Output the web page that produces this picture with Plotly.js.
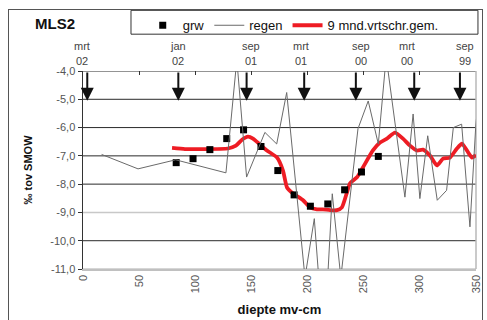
<!DOCTYPE html>
<html><head><meta charset="utf-8">
<script src="https://cdn.plot.ly/plotly-3.0.1.min.js"></script>
<style>
html,body{margin:0;padding:0;background:#fff;}
#wrap{position:relative;width:487px;height:320px;}
#chart{position:absolute;left:0;top:0;width:487px;height:320px;}
#frame{position:absolute;left:8px;top:9px;width:473px;height:320px;border:1px solid #555;pointer-events:none;}
</style></head>
<body><div id="wrap"><div id="chart"></div><div id="frame"></div></div>
<script>
// grondwater samples
const grwX = [83, 98, 113, 128, 143, 158.5, 173.5, 188, 202.5, 218, 233, 248, 263];
const grwY = [-7.24, -7.10, -6.78, -6.39, -6.08, -6.67, -7.52, -8.38, -8.78, -8.70, -8.20, -7.57, -7.02];
// regen (precipitation)
const regenX = [16.6, 49, 82.5, 127.3, 137, 145.7, 162, 172.5, 181.4, 197.7, 206, 210.5, 217.5, 222, 229.6, 244.9, 254, 263, 270, 286.7, 294, 300, 307, 315.5, 323.8, 329.8, 337.2, 344.6, 349.7, 352];
const regenY = [-6.95, -7.46, -7.14, -7.6, -3.6, -7.75, -6.17, -6.58, -4.76, -11.3, -9.22, -11.6, -11.6, -8.34, -11.3, -6.04, -5.06, -6.58, -3.5, -8.46, -5.52, -8.51, -6.29, -8.57, -8.22, -6.0, -5.88, -9.51, -6.0, -5.0];
// 9 mnd. voortschrijdend gemiddelde
const avgX = [79.3, 90.8, 104.2, 129.1, 136.2, 141.6, 146.9, 151.4, 157.6, 163.8, 172.8, 178.1, 181.7, 187.0, 196.0, 202.1, 208.4, 213.7, 220.0, 226.2, 230.6, 235.1, 237.8, 244.0, 249.3, 258.2, 264.5, 270.7, 277.8, 285.0, 291.2, 297.4, 302.8, 309.0, 315.2, 320.6, 326.8, 333.0, 337.5, 341.9, 346.4, 350];
const avgY = [-6.72, -6.76, -6.76, -6.74, -6.64, -6.43, -6.32, -6.39, -6.60, -6.81, -7.06, -7.52, -8.12, -8.33, -8.57, -8.82, -8.89, -8.89, -8.92, -8.92, -8.82, -8.29, -7.97, -7.76, -7.41, -6.81, -6.53, -6.39, -6.18, -6.39, -6.64, -6.81, -6.78, -6.99, -7.34, -7.10, -7.06, -6.74, -6.57, -6.81, -7.06, -6.97];
// date markers (arrows) along the depth axis
const dateArrowX = [3.8, 84.9, 145.7, 197, 243, 295, 335.7];
const dateLabelX = [0, 84.5, 150, 194, 248, 288.5, 340];
const dateMonth = ["mrt", "jan", "sep", "mrt", "sep", "mrt", "sep"];
const dateYear = ["02", "02", "01", "01", "00", "00", "99"];
// y axis
const yTickVals = [-4, -5, -6, -7, -8, -9, -10, -11];
const yTickText = ["-4,0", "-5,0", "-6,0", "-7,0", "-8,0", "-9,0", "-10,0", "-11,0"];
const gridDark = [-4, -5, -6, -7, -8, -10];
const gridLight = [-9, -11];
const xTicks = [0, 50, 100, 150, 200, 250, 300, 350];

const FONT = "Liberation Sans, Arial, sans-serif";

const traces = [
  {x: regenX, y: regenY, xaxis: 'x2', type: 'scatter', mode: 'lines', name: 'regen',
   line: {color: '#6a6a6a', width: 1}, legendrank: 2},
  {x: avgX, y: avgY, type: 'scatter', mode: 'lines', name: '9 mnd.vrtschr.gem.',
   line: {color: '#ee1c24', width: 3.8, shape: 'spline', smoothing: 0.5}, legendrank: 3},
  {x: grwX, y: grwY, type: 'scatter', mode: 'markers', name: 'grw',
   marker: {symbol: 'square', size: 7, color: '#000'}, legendrank: 1}
];

const shapes = [];
gridDark.forEach(v => shapes.push({type: 'line', xref: 'paper', x0: 0, x1: 1, yref: 'y', y0: v, y1: v,
  line: {color: '#2a2a2a', width: 1}, layer: 'below'}));
gridLight.forEach(v => shapes.push({type: 'line', xref: 'paper', x0: 0, x1: 1, yref: 'y', y0: v, y1: v,
  line: {color: '#c8c8c8', width: 1.5}, layer: 'below'}));
shapes.push({type: 'line', xref: 'paper', x0: 1, x1: 1, yref: 'paper', y0: 0, y1: 1,
  line: {color: '#b8b8b8', width: 1.5}, layer: 'below'});
// legend frame
shapes.push({type: 'rect', xref: 'paper', yref: 'paper', x0: 0.1221, x1: 1.005, y0: 1.186, y1: 1.3065,
  line: {color: '#333', width: 1}, fillcolor: 'rgba(0,0,0,0)', layer: 'above'});

const annotations = [];
dateArrowX.forEach(x => annotations.push({x: x, y: -5.05, xref: 'x', yref: 'y', ax: x, ay: -4,
  axref: 'x', ayref: 'y', text: '', showarrow: true, arrowhead: 2, arrowsize: 1.3,
  arrowwidth: 2, arrowcolor: '#111'}));
dateLabelX.forEach((x, i) => {
  annotations.push({x: x, y: 1.128, xref: 'x', yref: 'paper', text: dateMonth[i], showarrow: false,
    xanchor: 'center', yanchor: 'middle', xshift: i === 0 ? -1 : 0, font: {family: FONT, size: 11, color: '#444'}});
  annotations.push({x: x, y: 1.048, xref: 'x', yref: 'paper', text: dateYear[i], showarrow: false,
    xanchor: 'center', yanchor: 'middle', xshift: i === 0 ? -1 : 0, font: {family: FONT, size: 11, color: '#444'}});
});

const layout = {
  width: 487, height: 320,
  margin: {l: 83, r: 11, t: 70, b: 51},
  paper_bgcolor: '#fff', plot_bgcolor: '#fff',
  font: {family: FONT, size: 11, color: '#555'},
  title: {text: 'MLS2', x: 0.072, xref: 'container', xanchor: 'left', y: 0.925, yanchor: 'middle',
    font: {family: FONT, size: 15, weight: 'bold', color: '#111'}},
  showlegend: true,
  legend: {orientation: 'h', x: 0.152, xanchor: 'left', y: 1.300, yanchor: 'top',
    bgcolor: 'rgba(0,0,0,0)', borderwidth: 0,
    font: {family: FONT, size: 13, color: '#111'}, traceorder: 'normal'},
  xaxis: {range: [0, 350], tickmode: 'array', tickvals: xTicks, tickangle: -90,
    showgrid: false, zeroline: false, showline: true, linecolor: '#c0c0c0', linewidth: 1.5,
    ticks: '', tickfont: {family: FONT, size: 11, color: '#555'},
    title: {text: 'diepte mv-cm', standoff: 12, font: {family: FONT, size: 13, weight: 'bold', color: '#111'}}},
  xaxis2: {range: [0, 350], overlaying: 'x', side: 'top', showgrid: false, zeroline: false,
    showline: false, showticklabels: false, ticks: 'inside', ticklen: 4, tickcolor: '#333',
    tickmode: 'linear', tick0: 0, dtick: 50},
  yaxis: {range: [-11, -4], tickmode: 'array', tickvals: yTickVals, ticktext: yTickText,
    showgrid: false, zeroline: false, showline: true, linecolor: '#333', linewidth: 1.5,
    ticks: 'outside', ticklen: 4, tickcolor: '#333',
    tickfont: {family: FONT, size: 11, color: '#555'},
    title: {text: '‰ tov SMOW', standoff: 15, font: {family: FONT, size: 11, weight: 'bold', color: '#111'}}},
  shapes: shapes,
  annotations: annotations
};

Plotly.newPlot('chart', traces, layout, {displayModeBar: false, staticPlot: true});
</script></body></html>
